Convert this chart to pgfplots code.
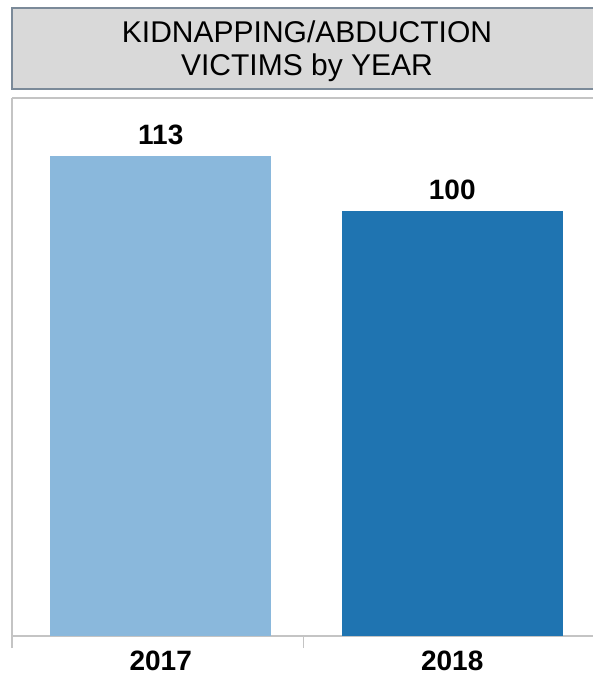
\documentclass[border=0pt]{standalone}
\usepackage{pgfplots}
\pgfplotsset{compat=1.18}
\usepackage{fontspec}
\setmainfont{Liberation Sans}
\definecolor{lightbar}{HTML}{8AB8DC}
\definecolor{darkbar}{HTML}{1F74B1}
\definecolor{titlefill}{HTML}{D9D9D9}
\definecolor{titleborder}{HTML}{7B8A99}
\definecolor{panelline}{HTML}{C4C4C4}
\begin{document}
\begin{tikzpicture}
\begin{axis}[
  scale only axis,
  width=291.5pt, height=269pt,
  xmin=-0.5, xmax=1.5,
  ymin=0, ymax=126.6,
  clip=false,
  /pgf/number format/assume math mode=true,
  axis line style={panelline, line width=0.8pt},
  axis x line*=bottom,
  axis y line*=left,
  ytick=\empty,
  xtick={0,1},
  xticklabels={2017,2018},
  major x tick style={draw=none},
  extra x ticks={-0.5,0.5},
  extra x tick labels={},
  extra x tick style={major tick length=6pt, tick align=outside, major x tick style={draw=panelline, line width=0.8pt}},
  xticklabel style={font=\fontsize{14}{16}\selectfont\bfseries, yshift=0.5pt, xshift=1.5pt},
  ybar, bar width=110.5pt, bar shift=1.5pt,
  nodes near coords,
  every node near coord/.append style={font=\fontsize{14}{16}\selectfont\bfseries, yshift=2pt},
]
\addplot[fill=lightbar, draw=none] coordinates {(0,113)};
\addplot[fill=darkbar, draw=none] coordinates {(1,100)};
\draw[panelline, line width=0.8pt] (rel axis cs:0,1) -- (rel axis cs:1,1);
\coordinate (ll) at (rel axis cs:0,0);
\coordinate (ur) at (rel axis cs:1,1);
\coordinate (tl) at (rel axis cs:0,1);
\end{axis}
\fill[titlefill, draw=titleborder, line width=1pt] ([yshift=4.5pt]tl) rectangle ([xshift=4pt, yshift=45pt]ur);
\node[align=center, font=\fontsize{15}{16.5}\selectfont, inner sep=0pt] at ([xshift=147.5pt, yshift=23.5pt]tl) {KIDNAPPING/ABDUCTION\\VICTIMS by YEAR};
\pgfresetboundingbox
\path ([shift={(-6pt,-21.5pt)}]ll) rectangle ([shift={(-1pt,49pt)}]ur);
\end{tikzpicture}
\end{document}
